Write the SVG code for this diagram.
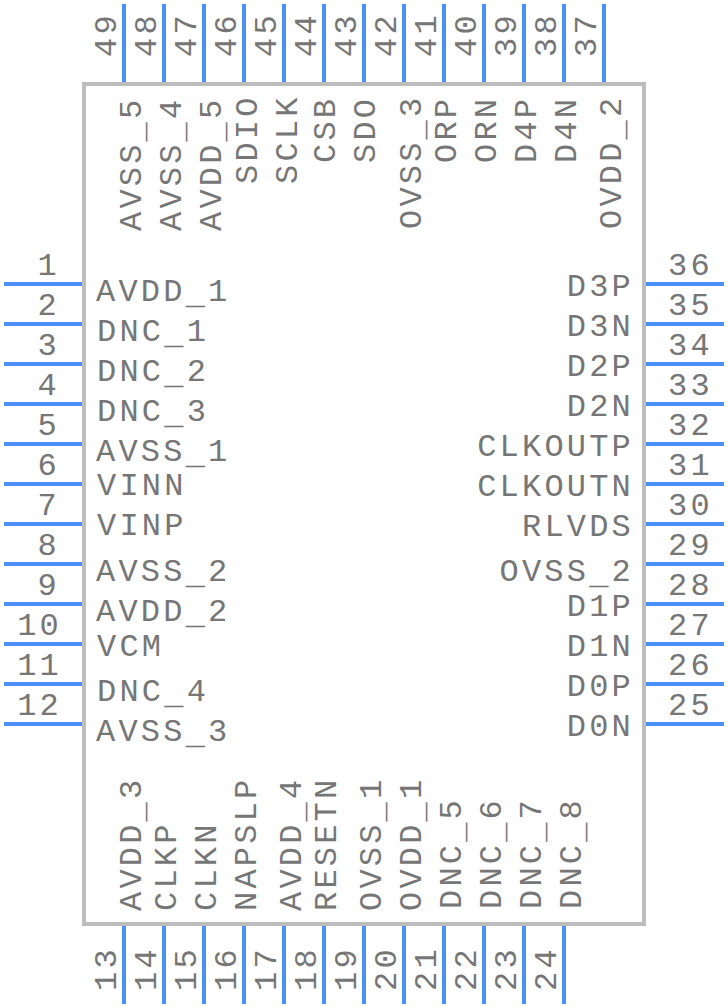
<svg xmlns="http://www.w3.org/2000/svg" width="728" height="1008" viewBox="0 0 728 1008">
<style>
text{font-family:"Liberation Mono",monospace;font-size:32px;letter-spacing:3.2px;fill:#767676}
.e{text-anchor:end}
#connectors path{stroke:#4a90f5;stroke-width:4;fill:none}
#body rect{fill:#fff;stroke:#bdbdbd;stroke-width:4}
</style>
<g id="body"><rect x="84" y="84" width="560" height="840"/></g>
<g id="connectors"><path d="M4 284H82M4 324H82M4 364H82M4 404H82M4 444H82M4 484H82M4 524H82M4 564H82M4 604H82M4 644H82M4 684H82M4 724H82"/><path d="M124 926V1004M164 926V1004M204 926V1004M244 926V1004M284 926V1004M324 926V1004M364 926V1004M404 926V1004M444 926V1004M484 926V1004M524 926V1004M564 926V1004"/><path d="M646 724H724M646 684H724M646 644H724M646 604H724M646 564H724M646 524H724M646 484H724M646 444H724M646 404H724M646 364H724M646 324H724M646 284H724"/><path d="M604 4V82M564 4V82M524 4V82M484 4V82M444 4V82M404 4V82M364 4V82M324 4V82M284 4V82M244 4V82M204 4V82M164 4V82M124 4V82"/></g>
<g id="pins-left">
<g id="pin1"><text x="60" y="275" class="e">1</text><text x="96" y="301">AVDD<tspan dy="3">_</tspan><tspan dy="-3">1</tspan></text></g>
<g id="pin2"><text x="60" y="315" class="e">2</text><text x="97" y="341">DNC<tspan dy="3">_</tspan><tspan dy="-3">1</tspan></text></g>
<g id="pin3"><text x="60" y="355" class="e">3</text><text x="97" y="381">DNC<tspan dy="3">_</tspan><tspan dy="-3">2</tspan></text></g>
<g id="pin4"><text x="60" y="395" class="e">4</text><text x="97" y="421">DNC<tspan dy="3">_</tspan><tspan dy="-3">3</tspan></text></g>
<g id="pin5"><text x="60" y="435" class="e">5</text><text x="96" y="461">AVSS<tspan dy="3">_</tspan><tspan dy="-3">1</tspan></text></g>
<g id="pin6"><text x="60" y="475" class="e">6</text><text x="97" y="495">VINN</text></g>
<g id="pin7"><text x="60" y="515" class="e">7</text><text x="97" y="535">VINP</text></g>
<g id="pin8"><text x="60" y="555" class="e">8</text><text x="96" y="581">AVSS<tspan dy="3">_</tspan><tspan dy="-3">2</tspan></text></g>
<g id="pin9"><text x="60" y="595" class="e">9</text><text x="96" y="621">AVDD<tspan dy="3">_</tspan><tspan dy="-3">2</tspan></text></g>
<g id="pin10"><text x="62" y="635" class="e">10</text><text x="97" y="656">VCM</text></g>
<g id="pin11"><text x="62" y="675" class="e">11</text><text x="97" y="701">DNC<tspan dy="3">_</tspan><tspan dy="-3">4</tspan></text></g>
<g id="pin12"><text x="62" y="715" class="e">12</text><text x="96" y="741">AVSS<tspan dy="3">_</tspan><tspan dy="-3">3</tspan></text></g>
</g>
<g id="pins-right">
<g id="pin36"><text x="668" y="275">36</text><text x="634" y="296" class="e">D3P</text></g>
<g id="pin35"><text x="668" y="315">35</text><text x="634" y="336" class="e">D3N</text></g>
<g id="pin34"><text x="668" y="355">34</text><text x="634" y="376" class="e">D2P</text></g>
<g id="pin33"><text x="668" y="395">33</text><text x="634" y="416" class="e">D2N</text></g>
<g id="pin32"><text x="668" y="435">32</text><text x="634" y="456" class="e">CLKOUTP</text></g>
<g id="pin31"><text x="668" y="475">31</text><text x="634" y="496" class="e">CLKOUTN</text></g>
<g id="pin30"><text x="668" y="515">30</text><text x="634" y="536" class="e">RLVDS</text></g>
<g id="pin29"><text x="668" y="555">29</text><text x="634" y="581" class="e">OVSS<tspan dy="3">_</tspan><tspan dy="-3">2</tspan></text></g>
<g id="pin28"><text x="668" y="595">28</text><text x="634" y="616" class="e">D1P</text></g>
<g id="pin27"><text x="668" y="635">27</text><text x="634" y="656" class="e">D1N</text></g>
<g id="pin26"><text x="668" y="675">26</text><text x="634" y="696" class="e">D0P</text></g>
<g id="pin25"><text x="668" y="715">25</text><text x="634" y="736" class="e">D0N</text></g>
</g>
<g id="pins-top">
<g id="pin49"><text transform="translate(116 57) rotate(-90)">49</text><text transform="translate(141 231) rotate(-90)">AVSS<tspan dy="3">_</tspan><tspan dy="-3">5</tspan></text></g>
<g id="pin48"><text transform="translate(156 57) rotate(-90)">48</text><text transform="translate(181 231) rotate(-90)">AVSS<tspan dy="3">_</tspan><tspan dy="-3">4</tspan></text></g>
<g id="pin47"><text transform="translate(196 57) rotate(-90)">47</text><text transform="translate(221 231) rotate(-90)">AVDD<tspan dy="3">_</tspan><tspan dy="-3">5</tspan></text></g>
<g id="pin46"><text transform="translate(236 57) rotate(-90)">46</text><text transform="translate(257 184) rotate(-90)">SDIO</text></g>
<g id="pin45"><text transform="translate(276 57) rotate(-90)">45</text><text transform="translate(297 184) rotate(-90)">SCLK</text></g>
<g id="pin44"><text transform="translate(316 57) rotate(-90)">44</text><text transform="translate(335 163) rotate(-90)">CSB</text></g>
<g id="pin43"><text transform="translate(356 57) rotate(-90)">43</text><text transform="translate(375 163) rotate(-90)">SDO</text></g>
<g id="pin42"><text transform="translate(396 57) rotate(-90)">42</text><text transform="translate(421 229) rotate(-90)">OVSS<tspan dy="3">_</tspan><tspan dy="-3">3</tspan></text></g>
<g id="pin41"><text transform="translate(436 57) rotate(-90)">41</text><text transform="translate(456 163) rotate(-90)">ORP</text></g>
<g id="pin40"><text transform="translate(476 57) rotate(-90)">40</text><text transform="translate(496 163) rotate(-90)">ORN</text></g>
<g id="pin39"><text transform="translate(516 57) rotate(-90)">39</text><text transform="translate(536 163) rotate(-90)">D4P</text></g>
<g id="pin38"><text transform="translate(556 57) rotate(-90)">38</text><text transform="translate(576 163) rotate(-90)">D4N</text></g>
<g id="pin37"><text transform="translate(596 57) rotate(-90)">37</text><text transform="translate(621 229) rotate(-90)">OVDD<tspan dy="3">_</tspan><tspan dy="-3">2</tspan></text></g>
</g>
<g id="pins-bottom">
<g id="pin13"><text transform="translate(116 991) rotate(-90)">13</text><text transform="translate(141 911) rotate(-90)">AVDD<tspan dy="3">_</tspan><tspan dy="-3">3</tspan></text></g>
<g id="pin14"><text transform="translate(156 991) rotate(-90)">14</text><text transform="translate(176 911) rotate(-90)">CLKP</text></g>
<g id="pin15"><text transform="translate(196 991) rotate(-90)">15</text><text transform="translate(216 911) rotate(-90)">CLKN</text></g>
<g id="pin16"><text transform="translate(236 991) rotate(-90)">16</text><text transform="translate(256 911) rotate(-90)">NAPSLP</text></g>
<g id="pin17"><text transform="translate(276 991) rotate(-90)">17</text><text transform="translate(301 911) rotate(-90)">AVDD<tspan dy="3">_</tspan><tspan dy="-3">4</tspan></text></g>
<g id="pin18"><text transform="translate(316 991) rotate(-90)">18</text><text transform="translate(336 911) rotate(-90)">RESETN</text></g>
<g id="pin19"><text transform="translate(356 991) rotate(-90)">19</text><text transform="translate(381 911) rotate(-90)">OVSS<tspan dy="3">_</tspan><tspan dy="-3">1</tspan></text></g>
<g id="pin20"><text transform="translate(396 991) rotate(-90)">20</text><text transform="translate(421 911) rotate(-90)">OVDD<tspan dy="3">_</tspan><tspan dy="-3">1</tspan></text></g>
<g id="pin21"><text transform="translate(436 991) rotate(-90)">21</text><text transform="translate(461 909) rotate(-90)">DNC<tspan dy="3">_</tspan><tspan dy="-3">5</tspan></text></g>
<g id="pin22"><text transform="translate(476 991) rotate(-90)">22</text><text transform="translate(501 909) rotate(-90)">DNC<tspan dy="3">_</tspan><tspan dy="-3">6</tspan></text></g>
<g id="pin23"><text transform="translate(516 991) rotate(-90)">23</text><text transform="translate(541 909) rotate(-90)">DNC<tspan dy="3">_</tspan><tspan dy="-3">7</tspan></text></g>
<g id="pin24"><text transform="translate(556 991) rotate(-90)">24</text><text transform="translate(581 909) rotate(-90)">DNC<tspan dy="3">_</tspan><tspan dy="-3">8</tspan></text></g>
</g>
</svg>
